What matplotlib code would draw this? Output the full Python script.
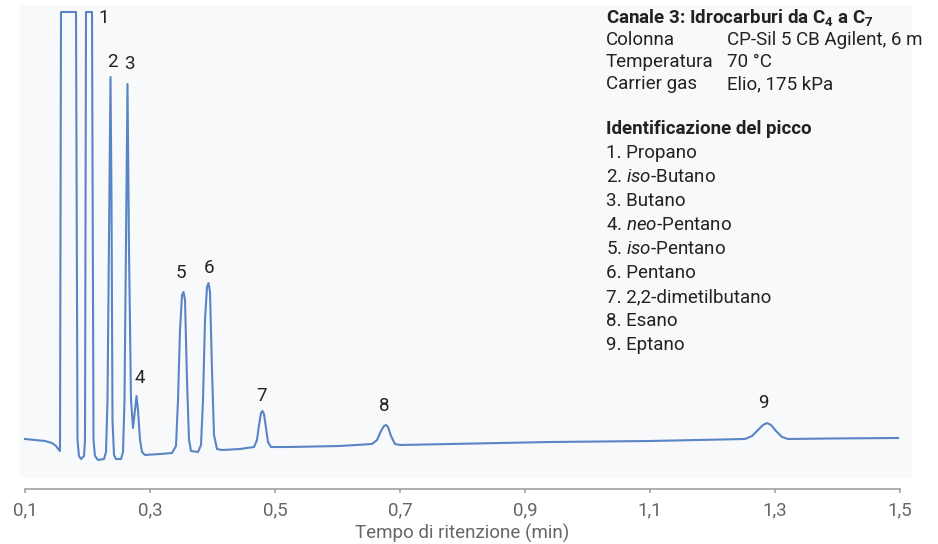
import numpy as np
import matplotlib
matplotlib.use('Agg')
import matplotlib.pyplot as plt

# Schrift
plt.rcParams['font.family'] = ['Roboto', 'DejaVu Sans']
plt.rcParams['mathtext.fontset'] = 'custom'
plt.rcParams['mathtext.rm'] = 'Roboto'
plt.rcParams['mathtext.it'] = 'Roboto:italic'
plt.rcParams['mathtext.bf'] = 'Roboto:bold'

#%% Daten: Cromatogramma canale 3 (tempo in min, segnale in u.a.)

tempo = [0.100, 0.116, 0.132, 0.1432, 0.1496, 0.1544, 0.156,
         0.1576, 0.1816, 0.184, 0.1864, 0.1896, 0.1944, 0.196,
         0.1976, 0.2072, 0.2096, 0.212, 0.2168, 0.2264, 0.2296,
         0.232, 0.2368, 0.2384, 0.240, 0.2424, 0.2456, 0.2536,
         0.2568, 0.2592, 0.264, 0.2664, 0.2696, 0.2728, 0.276,
         0.2784, 0.2808, 0.284, 0.2872, 0.292, 0.316, 0.3352,
         0.3416, 0.3448, 0.348, 0.3512, 0.3536, 0.356, 0.3592,
         0.3624, 0.3656, 0.3768, 0.3816, 0.3848, 0.388, 0.3912,
         0.3936, 0.396, 0.3992, 0.4024, 0.4072, 0.4152, 0.444,
         0.4664, 0.4712, 0.4744, 0.4776, 0.480, 0.4824, 0.4856,
         0.4888, 0.4936, 0.524, 0.604, 0.6552, 0.6632, 0.6696,
         0.6744, 0.6776, 0.6808, 0.6856, 0.692, 0.700, 0.780,
         0.940, 1.100, 1.252, 1.2632, 1.2728, 1.2808, 1.2872,
         1.2936, 1.3016, 1.3112, 1.3208, 1.388, 1.4968]

segnale = [49, 48, 47, 45, 42, 38, 37,
           476, 476, 48, 32, 29, 32, 48,
           476, 476, 48, 32, 28, 29, 36,
           88, 411, 288, 68, 33, 29, 29,
           36, 88, 404, 238, 88, 60, 78,
           92, 78, 48, 36, 33, 34, 35,
           42, 88, 158, 193, 196, 188, 108,
           48, 37, 36, 43, 88, 168, 201,
           205, 196, 118, 53, 39, 38, 39,
           41, 48, 63, 75, 77, 74, 60,
           46, 41, 41, 42, 44, 48, 57,
           62, 63, 61, 52, 44, 43, 44,
           46, 47, 49, 52, 58, 63, 65,
           63, 57, 51, 49, 49.5, 50]

# Nummerierung der Peaks
picco_nr = ['1', '2', '3', '4', '5', '6', '7', '8', '9']
picco_t = [0.2264, 0.2392, 0.2664, 0.284, 0.3496, 0.3944, 0.4792, 0.6744, 1.2808]
picco_s = [470, 426, 424, 110, 215, 220, 92, 82, 85]

# Achse
x_ticks = [0.1, 0.3, 0.5, 0.7, 0.9, 1.1, 1.3, 1.5]
x_labels = ['0,1', '0,3', '0,5', '0,7', '0,9', '1,1', '1,3', '1,5']

# Legende
condizioni = [('Colonna', 'CP-Sil 5 CB Agilent, 6 m'),
              ('Temperatura', '70 °C'),
              ('Carrier gas', 'Elio, 175 kPa')]
composti = ['1. Propano',
            r'2. $\mathit{iso}$-Butano',
            '3. Butano',
            r'4. $\mathit{neo}$-Pentano',
            r'5. $\mathit{iso}$-Pentano',
            '6. Pentano',
            '7. 2,2-dimetilbutano',
            '8. Esano',
            '9. Eptano']

fs = 13.5

#%% Plot

W, H = 938, 544
fig = plt.figure(figsize=(W / 100, H / 100), dpi=100)
ax = fig.add_axes([20 / W, 66 / H, 892 / W, 473 / H])
ax.set_facecolor('#f8f9fb')

ax.plot(tempo, segnale, color='#5a85c5', lw=1.5, solid_joinstyle='round')

for nr, t, s in zip(picco_nr, picco_t, picco_s):
    ax.text(t, s, nr, ha='center', va='center', fontsize=fs, color='#222222')

ax.set_xlim(0.092, 1.5192)
ax.set_ylim(10, 483)

for side in ['left', 'top', 'right']:
    ax.spines[side].set_visible(False)
ax.spines['bottom'].set_position(('outward', 8))
ax.spines['bottom'].set_bounds(0.1, 1.5)
ax.spines['bottom'].set_color('#9a9a9a')
ax.spines['bottom'].set_linewidth(1.1)

ax.set_yticks([])
ax.set_xticks(x_ticks)
ax.set_xticklabels(x_labels)
ax.tick_params(axis='x', direction='out', length=3, width=1.1, color='#9a9a9a',
               labelcolor='#666666', labelsize=fs, pad=6)
ax.set_xlabel('Tempo di ritenzione (min)', fontsize=fs, color='#666666', labelpad=3)
ax.xaxis.label.set_x((0.8 - 0.092) / (1.5192 - 0.092))

# Textblock rechts oben
def px(x, y):
    return x / W, 1 - y / H

fig.text(*px(606, 18), r'Canale 3: Idrocarburi da C$_\mathbf{4}$ a C$_\mathbf{7}$',
         fontsize=fs, fontweight='bold', color='#222222', va='center')
for i, (k, v) in enumerate(condizioni):
    y = 40 + 22 * i
    fig.text(*px(606, y), k, fontsize=fs, color='#222222', va='center')
    fig.text(*px(727, y), v, fontsize=fs, color='#222222', va='center')

fig.text(*px(606, 129), 'Identificazione del picco', fontsize=fs,
         fontweight='bold', color='#222222', va='center')
for i, c in enumerate(composti):
    fig.text(*px(606, 153 + 24 * i), c, fontsize=fs, color='#222222', va='center')

fig.savefig('out.png', dpi=100, facecolor='white')
